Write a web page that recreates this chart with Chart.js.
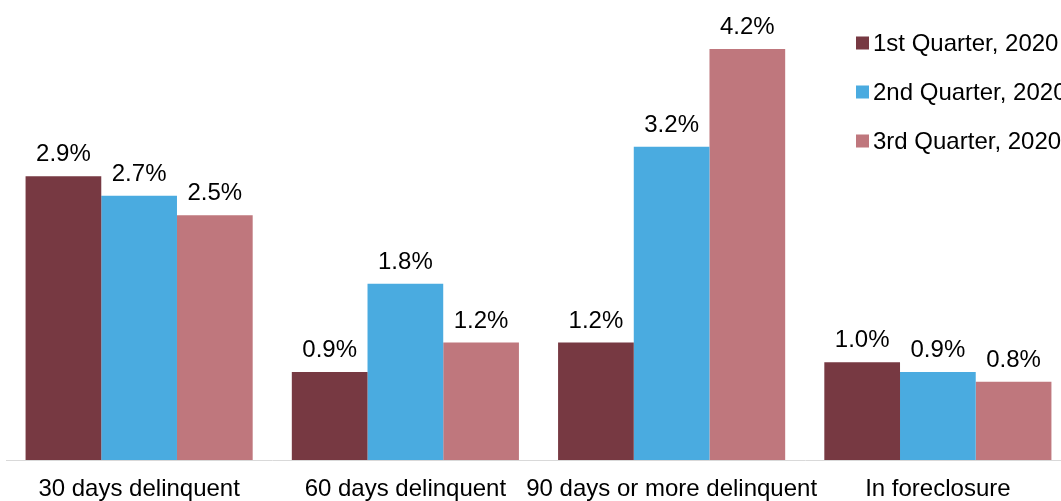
<!DOCTYPE html>
<html>
<head>
<meta charset="utf-8">
<script src="https://cdn.jsdelivr.net/npm/chart.js@4/dist/chart.umd.min.js"></script>
<style>
  html, body { margin: 0; padding: 0; background: #fff; overflow: hidden; }
  #wrap { width: 1071px; height: 501px; }
</style>
</head>
<body>
<div id="wrap"><canvas id="c" width="1071" height="501"></canvas></div>
<script>
// Delinquency rates by status, 2020 quarters (percent)
const categories = ['30 days delinquent', '60 days delinquent', '90 days or more delinquent', 'In foreclosure'];
const seriesNames = ['1st Quarter, 2020', '2nd Quarter, 2020', '3rd Quarter, 2020'];
const q1Values = [2.9, 0.9, 1.2, 1.0];
const q2Values = [2.7, 1.8, 3.2, 0.9];
const q3Values = [2.5, 1.2, 4.2, 0.8];
const seriesColors = ['#773942', '#4AABE0', '#BF777D'];

const FONT = '"Liberation Sans", Arial, sans-serif';

// Percent labels above each bar
const valueLabels = {
  id: 'valueLabels',
  afterDatasetsDraw(chart) {
    const ctx = chart.ctx;
    ctx.save();
    ctx.font = '24px ' + FONT;
    ctx.fillStyle = '#000';
    ctx.textAlign = 'center';
    ctx.textBaseline = 'alphabetic';
    chart.data.datasets.forEach((ds, i) => {
      chart.getDatasetMeta(i).data.forEach((bar, j) => {
        ctx.fillText(ds.data[j].toFixed(1) + '%', bar.x, bar.y - 15);
      });
    });
    ctx.restore();
  }
};

// Legend stacked at the top right
const sideLegend = {
  id: 'sideLegend',
  afterDraw(chart) {
    const ctx = chart.ctx;
    ctx.save();
    ctx.font = '24px ' + FONT;
    ctx.textAlign = 'left';
    ctx.textBaseline = 'alphabetic';
    chart.data.datasets.forEach((ds, i) => {
      const y = 42.5 + i * 49;
      ctx.fillStyle = ds.backgroundColor;
      ctx.fillRect(856, y - 6, 13, 13);
      ctx.fillStyle = '#000';
      ctx.fillText(ds.label, 873, y + 8.5);
    });
    ctx.restore();
  }
};

new Chart(document.getElementById('c'), {
  type: 'bar',
  data: {
    labels: categories,
    datasets: [
      { label: seriesNames[0], data: q1Values, backgroundColor: seriesColors[0] },
      { label: seriesNames[1], data: q2Values, backgroundColor: seriesColors[1] },
      { label: seriesNames[2], data: q3Values, backgroundColor: seriesColors[2] }
    ]
  },
  options: {
    responsive: false,
    animation: false,
    devicePixelRatio: 1,
    layout: { padding: { left: 6, right: 0, top: 0, bottom: 0 } },
    datasets: { bar: { categoryPercentage: 0.853, barPercentage: 1.0 } },
    plugins: { legend: { display: false }, tooltip: { enabled: false } },
    scales: {
      x: {
        grid: { display: false, drawTicks: false },
        border: { display: true, color: '#d9d9d9', width: 1 },
        ticks: { color: '#000', font: { family: FONT, size: 24 }, padding: 15, maxRotation: 0, autoSkip: false },
        afterFit(scale) { scale.height = 41; }
      },
      y: {
        display: false,
        min: 0,
        max: 4.7
      }
    }
  },
  plugins: [valueLabels, sideLegend]
});
</script>
</body>
</html>
